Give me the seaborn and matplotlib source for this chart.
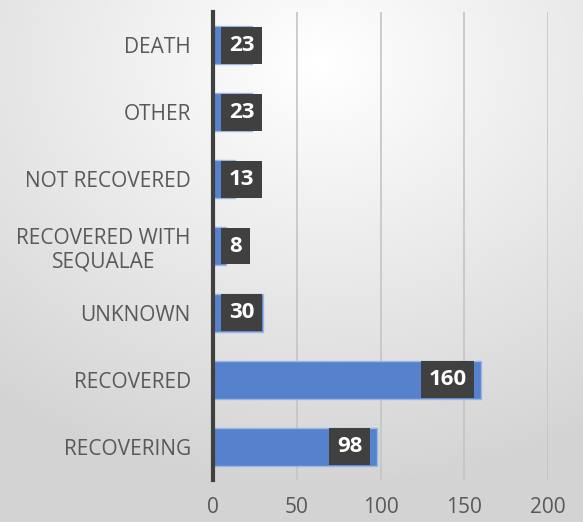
import numpy as np
import pandas as pd
import matplotlib.pyplot as plt
import seaborn as sns

outcomes = ['DEATH', 'OTHER', 'NOT RECOVERED', 'RECOVERED WITH\nSEQUALAE',
            'UNKNOWN', 'RECOVERED', 'RECOVERING']
counts = [23, 23, 13, 8, 30, 160, 98]
x_ticks = [0, 50, 100, 150, 200]

sns.set_style('white')
plt.rcParams['font.family'] = ['Open Sans', 'DejaVu Sans']

fig = plt.figure(figsize=(5.83, 5.22), dpi=100)

# radial grey background
bg = fig.add_axes([0, 0, 1, 1], zorder=0)
yy, xx = np.mgrid[0:1:300j, 0:1:300j]
dist = np.sqrt(((xx - 0.55) / 1.0) ** 2 + ((yy - 0.88) / 0.9) ** 2)
shade = 1.0 - 0.17 * np.clip(dist / 0.9, 0, 1)
bg.imshow(shade, cmap='gray', vmin=0, vmax=1, origin='lower',
          extent=[0, 1, 0, 1], aspect='auto', interpolation='bicubic')
bg.set_axis_off()

ax = fig.add_axes([213 / 583, 1 - 480 / 522, 335 / 583, 468 / 522], zorder=1)
ax.patch.set_alpha(0)

df = pd.DataFrame({'outcome': outcomes, 'count': counts})
sns.barplot(data=df, x='count', y='outcome', orient='h', color='#5681CC',
            saturation=1, width=0.57, edgecolor='#9AB6E4', linewidth=1, ax=ax)

# pixel -> data scale for the label boxes
px = 200 / 335
for i, v in enumerate(counts):
    w = (17 + 12 * len(str(v))) * px
    left = max(v - 7 * px - w, 8 * px)
    ax.barh(i, w, left=left, height=0.55, color='#404040', linewidth=0, zorder=3)
    ax.text(left + w / 2, i, str(v), ha='center', va='center',
            color='white', fontsize=16, fontweight='bold', zorder=4)

ax.set_xlim(0, 200)
ax.set_ylim(len(outcomes) - 0.5, -0.5)
ax.set_xticks(x_ticks)
ax.xaxis.grid(True, color='#c4c4c4', linewidth=1.2)
ax.set_axisbelow(True)
for s in ['top', 'right', 'bottom']:
    ax.spines[s].set_visible(False)
ax.spines['left'].set_color('#404040')
ax.spines['left'].set_linewidth(3)
ax.tick_params(axis='x', length=0, pad=12, labelsize=15, labelcolor='#595959')
ax.tick_params(axis='y', length=0, pad=16, labelsize=15, labelcolor='#595959')
for lab in ax.get_yticklabels():
    lab.set_multialignment('center')
ax.set_xlabel('')
ax.set_ylabel('')

fig.savefig('out.png', dpi=100)
